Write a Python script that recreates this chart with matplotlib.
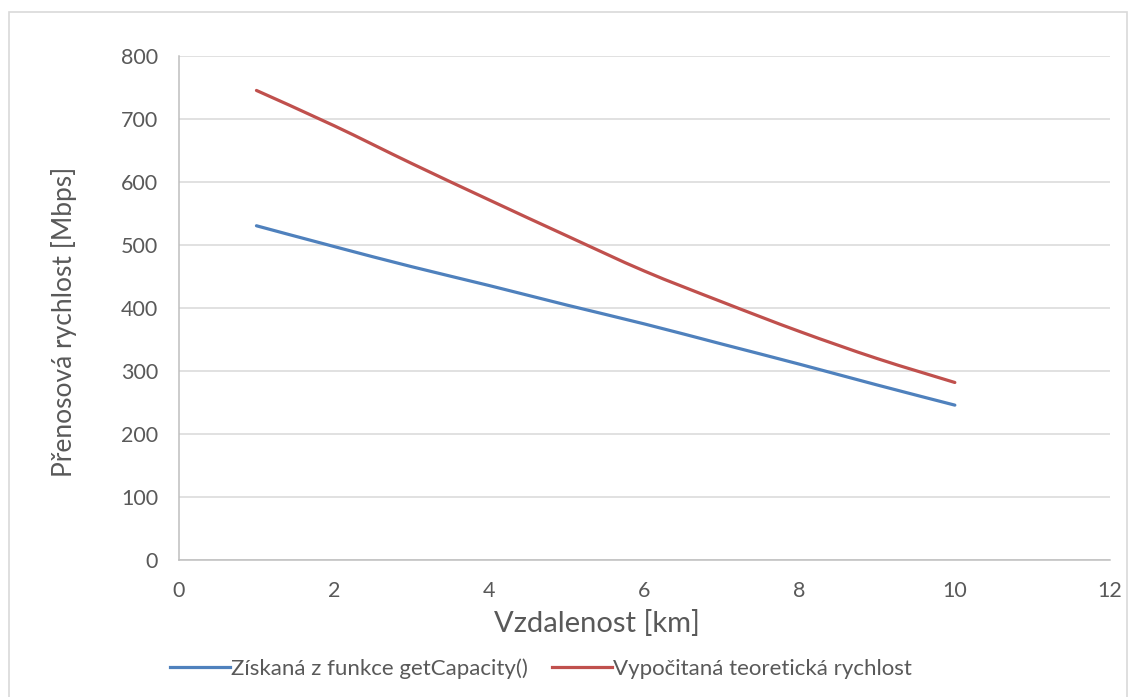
import matplotlib
matplotlib.use("Agg")
import matplotlib.pyplot as plt
from matplotlib.path import Path
from matplotlib.patches import PathPatch, Rectangle
from matplotlib.lines import Line2D

# data
distance_km = [1, 2, 3, 4, 5, 6, 7, 8, 9, 10]
measured_mbps = [531, 498, 466, 436, 405, 375, 343, 311, 278, 246]
theoretical_mbps = [746, 690, 630, 572, 515, 459, 410, 363, 320, 282]
series_labels = ["Získaná z funkce getCapacity()", "Vypočitaná teoretická rychlost"]
series_colors = ["#4F81BD", "#C0504D"]

plt.rcParams['font.family'] = ['Lato', 'DejaVu Sans']
TEXT = "#595959"


def smooth_path(xs, ys):
    """Excel-like smoothed line: cubic Bezier through the points (Catmull-Rom)."""
    verts = [(xs[0], ys[0])]
    codes = [Path.MOVETO]
    n = len(xs)
    for i in range(n - 1):
        x0, y0 = (xs[i - 1], ys[i - 1]) if i > 0 else (xs[i], ys[i])
        x1, y1 = xs[i], ys[i]
        x2, y2 = xs[i + 1], ys[i + 1]
        x3, y3 = (xs[i + 2], ys[i + 2]) if i + 2 < n else (x2, y2)
        c1 = (x1 + (x2 - x0) / 6, y1 + (y2 - y0) / 6)
        c2 = (x2 - (x3 - x1) / 6, y2 - (y3 - y1) / 6)
        verts += [c1, c2, (x2, y2)]
        codes += [Path.CURVE4] * 3
    return Path(verts, codes)


fig = plt.figure(figsize=(11.32, 6.97), dpi=100)
ax = fig.add_axes([0.158, 0.1966, 0.8226, 0.7224])

for ys, color in zip([measured_mbps, theoretical_mbps], series_colors):
    patch = PathPatch(smooth_path(distance_km, ys), facecolor="none",
                      edgecolor=color, lw=2.3, capstyle="round", zorder=3)
    ax.add_patch(patch)

ax.set_xlim(0, 12)
ax.set_ylim(0, 800)
ax.set_xticks(range(0, 13, 2))
ax.set_yticks(range(0, 801, 100))
ax.grid(axis="y", color="#D9D9D9", lw=1.1)
ax.set_axisbelow(True)
for side in ["top", "right"]:
    ax.spines[side].set_visible(False)
for side in ["left", "bottom"]:
    ax.spines[side].set_color("#BFBFBF")
    ax.spines[side].set_linewidth(1.1)
ax.tick_params(length=0, labelsize=15.5, colors=TEXT)
ax.tick_params(axis="x", pad=15)
ax.tick_params(axis="y", pad=15)

fig.text(0.527, 0.105, "Vzdalenost [km]", fontsize=21, color=TEXT,
         ha="center", va="center")
fig.text(0.0565, 0.538, "Přenosová rychlost [Mbps]", fontsize=19, color=TEXT,
         ha="center", va="center", rotation=90)

handles = [Line2D([], [], color=c, lw=2.3) for c in series_colors]
fig.legend(handles, series_labels, loc="center", bbox_to_anchor=(0.478, 0.041),
           ncol=2, frameon=False, fontsize=16, labelcolor=TEXT,
           handlelength=2.7, handletextpad=0.05, columnspacing=1.1)

fig.patches.append(Rectangle((0.008, -0.01), 0.988, 0.993, transform=fig.transFigure,
                             fill=False, edgecolor="#D9D9D9", lw=1.2))

fig.savefig("out.png", dpi=100)
